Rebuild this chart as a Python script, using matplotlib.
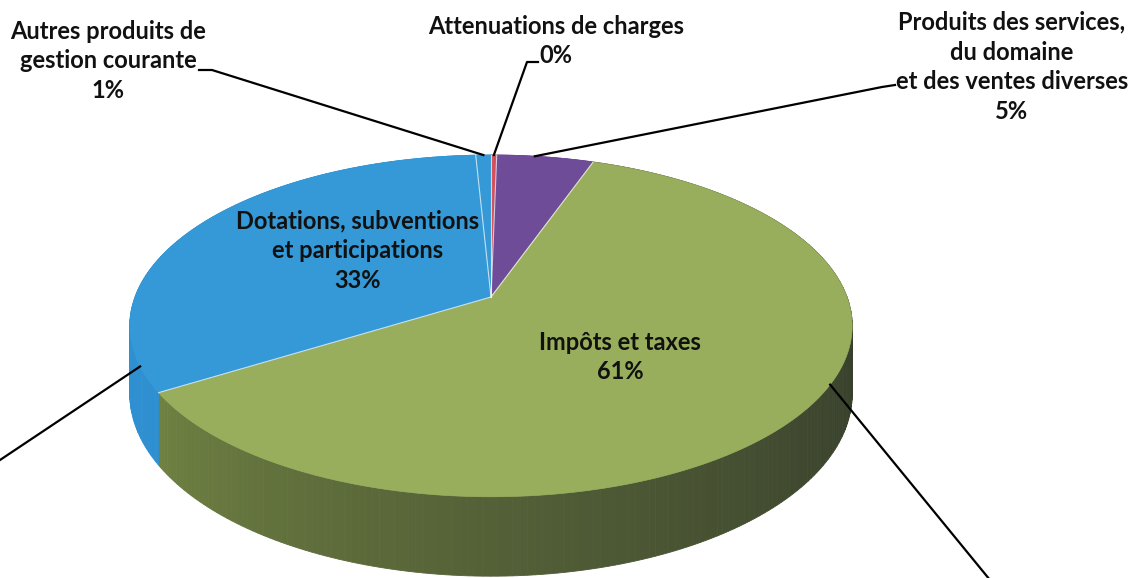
import numpy as np
import matplotlib.pyplot as plt
from matplotlib.patches import Polygon

# slices in clockwise order starting at 12 o'clock (Excel style)
labels = ["Attenuations de charges",
          "Produits des services,\ndu domaine\net des ventes diverses",
          "Impôts et taxes",
          "Dotations, subventions\net participations",
          "Autres produits de\ngestion courante"]
values = [0.3, 5.1, 60.8, 33.0, 0.8]
top_colors = ["#D2505A", "#6E4C98", "#98AE5C", "#3499D6", "#3499D6"]
side_dark = [(0.70, 0.28, 0.30), (0.38, 0.26, 0.52), (0.21, 0.24, 0.17), (0.17, 0.52, 0.78), (0.17, 0.52, 0.78)]
side_light = [(0.78, 0.32, 0.35), (0.42, 0.29, 0.58), (0.44, 0.51, 0.26), (0.18, 0.56, 0.82), (0.18, 0.56, 0.82)]

# pseudo-3D perspective geometry (pixel units)
cx, cy = 491, 297
R, B = 356, 166
persp = 0.169
depth = 66


def proj(a_deg, dz=0.0):
    a = np.radians(a_deg)
    u = np.sin(a)
    v = -np.cos(a)
    w = 1 - persp * v
    return cx + R * u / w, cy + B * v / w + dz / w


fig = plt.figure(figsize=(11.42, 5.78), dpi=100)
ax = fig.add_axes([0, 0, 1, 1])
ax.set_xlim(0, 1142)
ax.set_ylim(578, 0)
ax.axis("off")

total = sum(values)
bounds = np.concatenate([[0], np.cumsum(values) / total * 360])

# side walls first
for i in range(len(values)):
    a0, a1 = bounds[i], bounds[i + 1]
    n = max(2, int((a1 - a0) / 1.0) + 1)
    angs = np.linspace(a0, a1, n)
    for j in range(n - 1):
        aa = np.linspace(angs[j], angs[j + 1], 3)
        xt, yt = proj(aa)
        xb, yb = proj(aa[::-1], depth)
        mid = 0.5 * (angs[j] + angs[j + 1])
        t = np.clip((mid - 90) / 150.0, 0, 1) ** 1.3
        col = tuple(side_dark[i][k] + t * (side_light[i][k] - side_dark[i][k]) for k in range(3))
        ax.add_patch(Polygon(np.column_stack([np.r_[xt, xb], np.r_[yt, yb]]),
                             closed=True, facecolor=col, edgecolor=col, lw=0.6))

# top faces
for i in range(len(values)):
    angs = np.linspace(bounds[i], bounds[i + 1], 200)
    xt, yt = proj(angs)
    pts = np.column_stack([np.r_[cx, xt], np.r_[cy, yt]])
    ax.add_patch(Polygon(pts, closed=True, facecolor=top_colors[i],
                         edgecolor=top_colors[i], lw=0.5))

# thin light seams between slices
for b in bounds[:-1]:
    x, y = proj(b)
    ax.plot([cx, x], [cy, y], color="white", lw=0.8, alpha=0.7)

tkw = dict(fontsize=17, fontweight="bold", color="#111111", family=["Lato", "DejaVu Sans"],
           ha="center", va="center", linespacing=1.36)

pct = [f"{round(v)}%" for v in values]

# outside labels with leader lines
mid = lambda i: 0.5 * (bounds[i] + bounds[i + 1])

ax.text(108, 61, labels[4] + "\n" + pct[4], **tkw)
x, y = proj(mid(4))
ax.plot([199, 212, x], [70, 70, y], color="black", lw=1.6)

ax.text(556, 41, labels[0] + "\n" + pct[0], **tkw)
x, y = proj(mid(0))
ax.plot([538, 527, x], [62, 62, y], color="black", lw=1.6)

ax.text(1012, 67, labels[1] + "\n" + pct[1], **tkw)
x, y = proj(mid(1) - 2)
ax.plot([895, 882, x], [85, 87, y], color="black", lw=1.6)

# inside labels
ax.text(358, 251, labels[3] + "\n" + pct[3], **tkw)
ax.text(620, 357, labels[2] + "\n" + pct[2], **tkw)

# leftover leader lines
x, y = proj(247)
ax.plot([x, 0], [y, 460], color="black", lw=1.6)
x, y = proj(119)
ax.plot([x, 990], [y, 580], color="black", lw=1.6)

fig.savefig("out.png", dpi=100, facecolor="white")
